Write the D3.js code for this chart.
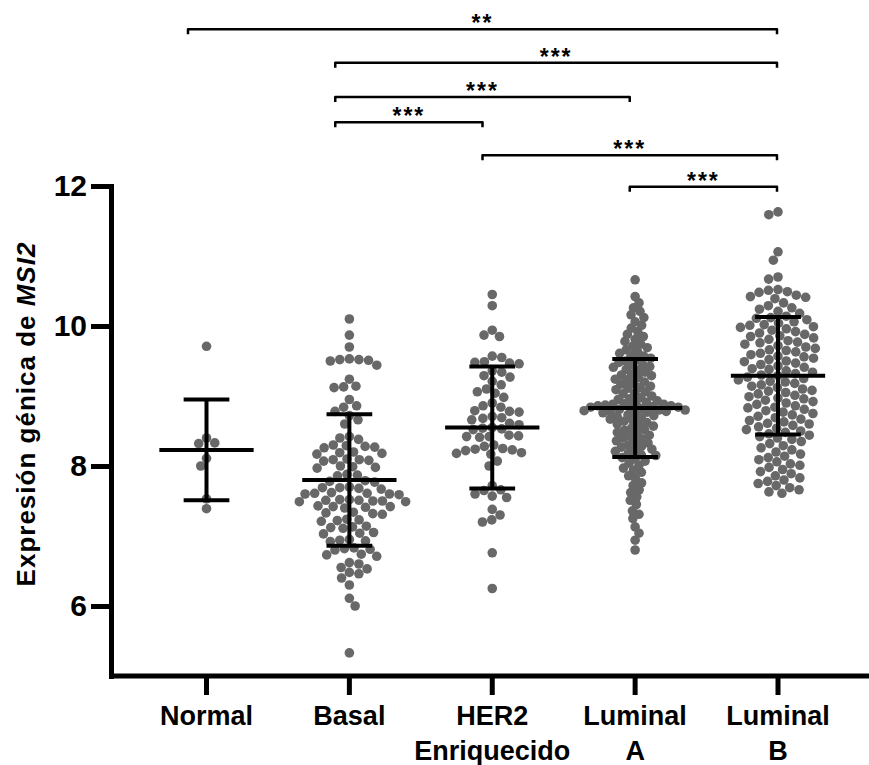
<!DOCTYPE html>
<html>
<head>
<meta charset="utf-8">
<script src="https://cdn.jsdelivr.net/npm/d3@7"></script>
<style>
  body { margin: 0; background: #fff; }
  text { font-family: "Liberation Sans", Arial, sans-serif; font-weight: bold; fill: #000; }
</style>
</head>
<body>
<div id="chart"></div>
<script>
// groups on the x axis
var categories = ["Normal", "Basal", "HER2 Enriquecido", "Luminal A", "Luminal B"];

// expression values, one array per group
var normalValues = [9.71, 8.40, 8.33, 8.32, 8.11, 8.00, 7.53, 7.39];

var basalValues = [10.10, 9.87, 9.70, 9.53, 9.52, 9.52, 9.51, 9.50, 9.44, 9.24, 9.14, 9.13, 9.12,
  8.95, 8.86, 8.84, 8.78, 8.72, 8.66, 8.60, 8.42, 8.40, 8.38, 8.30, 8.29, 8.28, 8.27, 8.26,
  8.20, 8.19, 8.18, 8.17, 8.10, 8.09, 8.09, 8.08, 8.07, 8.00, 7.99, 7.98, 7.97, 7.88, 7.87,
  7.86, 7.79, 7.78, 7.77, 7.70, 7.69, 7.69, 7.68, 7.67, 7.62, 7.61, 7.61, 7.60, 7.60, 7.59,
  7.52, 7.52, 7.51, 7.51, 7.50, 7.50, 7.49, 7.49, 7.43, 7.42, 7.42, 7.41, 7.40, 7.34, 7.33,
  7.32, 7.31, 7.24, 7.23, 7.22, 7.21, 7.14, 7.13, 7.12, 7.11, 7.05, 7.04, 7.03, 6.95, 6.94,
  6.93, 6.92, 6.83, 6.82, 6.81, 6.80, 6.74, 6.73, 6.71, 6.62, 6.60, 6.55, 6.53, 6.48, 6.46,
  6.40, 6.30, 6.11, 6.00, 5.33];

var her2Values = [10.45, 10.29, 9.94, 9.87, 9.85, 9.57, 9.55, 9.49, 9.48, 9.47, 9.46, 9.36, 9.34,
  9.29, 9.27, 9.21, 9.16, 9.10, 9.06, 9.04, 8.98, 8.90, 8.86, 8.84, 8.79, 8.78, 8.77, 8.71,
  8.69, 8.68, 8.66, 8.61, 8.59, 8.55, 8.54, 8.53, 8.52, 8.44, 8.43, 8.42, 8.42, 8.41, 8.30,
  8.28, 8.25, 8.24, 8.23, 8.22, 8.19, 8.18, 8.17, 8.07, 8.00, 7.72, 7.66, 7.65, 7.60, 7.57,
  7.55, 7.38, 7.30, 7.23, 7.20, 6.76, 6.25];

var lumAValues = [10.66, 10.42, 10.33, 10.26, 10.21, 10.16, 10.12, 10.06, 10.01, 9.97, 9.92,
  9.88, 9.85, 9.81, 9.78, 9.74, 9.71, 9.69, 9.66, 9.63, 9.61,
  9.58, 9.57, 9.54, 9.52, 9.50, 9.48, 9.45, 9.44, 9.42, 9.41,
  9.38, 9.37, 9.34, 9.31, 9.30, 9.29, 9.26, 9.24, 9.23, 9.20,
  9.18, 9.17, 9.14, 9.12, 9.11, 9.09, 9.06, 9.04, 9.03, 9.00,
  8.98, 8.96, 8.95, 8.93, 8.91, 8.90, 8.89, 8.88, 8.88, 8.87, 8.86, 8.86, 8.85, 8.84,
  8.84, 8.83, 8.82, 8.81, 8.80, 8.80, 8.79, 8.78, 8.78, 8.77, 8.76, 8.75, 8.73, 8.72, 8.71,
  8.69, 8.67, 8.65, 8.64, 8.62, 8.60,
  8.58, 8.57, 8.54, 8.52, 8.51, 8.48, 8.47, 8.44, 8.42, 8.40,
  8.39, 8.36, 8.34, 8.33, 8.30, 8.28, 8.27, 8.24, 8.22, 8.21,
  8.18, 8.16, 8.15, 8.12, 8.10, 8.07, 8.04, 8.01, 7.97, 7.94, 7.91,
  7.86, 7.82, 7.76, 7.72, 7.66, 7.62, 7.56, 7.51, 7.45, 7.36, 7.31, 7.25,
  7.13, 7.04, 6.94, 6.80];

var lumBValues = [11.63, 11.59, 11.06, 10.94, 10.70, 10.67,
  10.52, 10.51, 10.49, 10.48, 10.44, 10.42, 10.41, 10.39, 10.33, 10.29, 10.26,
  10.24, 10.21, 10.18, 10.14, 10.12, 10.11, 10.09, 10.06,
  10.04, 10.02, 10.01, 9.99, 9.98, 9.96, 9.94, 9.92, 9.90, 9.88, 9.86, 9.85, 9.83,
  9.81, 9.79, 9.77, 9.76, 9.74, 9.72, 9.70, 9.68, 9.66, 9.65, 9.63, 9.61, 9.59, 9.57,
  9.56, 9.54, 9.52, 9.50, 9.49, 9.47, 9.45, 9.43, 9.41, 9.39, 9.38, 9.36, 9.34, 9.32,
  9.30, 9.29, 9.27, 9.25, 9.23, 9.21, 9.20, 9.18, 9.16, 9.14, 9.12, 9.10, 9.08,
  9.07, 9.05, 9.03, 9.01, 8.99, 8.97, 8.96, 8.94, 8.92, 8.90, 8.88, 8.86, 8.84,
  8.83, 8.81, 8.79, 8.77, 8.75, 8.73, 8.71, 8.69, 8.67, 8.65, 8.63, 8.61, 8.60,
  8.58, 8.56, 8.54, 8.52, 8.50, 8.48, 8.46, 8.44, 8.42, 8.40, 8.38,
  8.35, 8.32, 8.29, 8.26, 8.23, 8.20, 8.17, 8.14, 8.12, 8.09, 8.06, 8.03,
  8.01, 7.98, 7.95, 7.92, 7.89, 7.86, 7.83, 7.80, 7.78, 7.75, 7.72,
  7.69, 7.66, 7.63, 7.61];

// mean and SD shown by the error bars
var groupMeans = [8.23, 7.80, 8.55, 8.83, 9.29];
var groupSD = [0.72, 0.94, 0.87, 0.70, 0.84];

// y axis ticks
var yTicks = [6, 8, 10, 12];

// significance brackets (from, to, label, height in data units)
var compFrom = ["Normal", "Basal", "Basal", "Basal", "HER2 Enriquecido", "Luminal A"];
var compTo = ["Luminal B", "Luminal B", "Luminal A", "HER2 Enriquecido", "Luminal B", "Luminal B"];
var compLabel = ["**", "***", "***", "***", "***", "***"];
var compLevel = [14.24, 13.76, 13.27, 12.91, 12.44, 11.99];

var groupValues = [normalValues, basalValues, her2Values, lumAValues, lumBValues];

var width = 869, height = 765;
var dotR = 4.8;
// Luminal A dots overlap in the original, so they are packed tighter
var packSpacing = { "Luminal A": 7.4 };

var svg = d3.select("#chart").append("svg")
    .attr("width", width)
    .attr("height", height);

var x = d3.scalePoint().domain(categories).range([206.5, 778]);
var y = d3.scaleLinear().domain([5, 12]).range([676, 186]);
// brackets sit a bit to the left of the group centres in the original
var xb = d3.scalePoint().domain(categories).range([188, 777]);

// simple beeswarm: put each dot as close to the centre as it can go without overlap
function swarm(values, cx, d) {
  var pts = values.map(function(v) { return { v: v, y: y(v) }; })
      .sort(function(a, b) { return a.y - b.y; });
  var placed = [];
  pts.forEach(function(p, i) {
    var near = placed.filter(function(q) { return Math.abs(q.y - p.y) < d; });
    var cands = [0];
    near.forEach(function(q) {
      var dx = Math.sqrt(d * d - (q.y - p.y) * (q.y - p.y));
      cands.push(q.dx + dx, q.dx - dx);
    });
    var sign = i % 2 ? -1 : 1;
    cands.sort(function(a, b) {
      var diff = Math.abs(a) - Math.abs(b);
      if (Math.abs(diff) > 0.01) return diff;
      return sign * (b - a);
    });
    for (var k = 0; k < cands.length; k++) {
      var c = cands[k];
      var ok = near.every(function(q) {
        return (q.dx - c) * (q.dx - c) + (q.y - p.y) * (q.y - p.y) >= d * d - 0.01;
      });
      if (ok) { p.dx = c; break; }
    }
    p.cx = cx + p.dx;
    placed.push(p);
  });
  return pts;
}

// dots
var groups = svg.selectAll(".group")
    .data(categories)
    .enter().append("g")
    .attr("class", "group");

groups.selectAll("circle")
    .data(function(c, i) { return swarm(groupValues[i], x(c), packSpacing[c] || dotR * 2); })
    .enter().append("circle")
    .attr("cx", function(d) { return d.cx; })
    .attr("cy", function(d) { return d.y; })
    .attr("r", dotR)
    .style("fill", "#686868");

// mean +/- SD bars
var meanHalf = x.step() * 0.33;
var capHalf = x.step() * 0.16;
var bars = svg.selectAll(".errbar")
    .data(categories)
    .enter().append("g")
    .attr("class", "errbar")
    .style("stroke", "#000")
    .style("stroke-width", 4);

bars.append("line")
    .attr("x1", function(c) { return x(c); })
    .attr("x2", function(c) { return x(c); })
    .attr("y1", function(c, i) { return y(groupMeans[i] + groupSD[i]); })
    .attr("y2", function(c, i) { return y(groupMeans[i] - groupSD[i]); });
bars.append("line")
    .attr("x1", function(c) { return x(c) - meanHalf; })
    .attr("x2", function(c) { return x(c) + meanHalf; })
    .attr("y1", function(c, i) { return y(groupMeans[i]); })
    .attr("y2", function(c, i) { return y(groupMeans[i]); });
bars.append("line")
    .attr("x1", function(c) { return x(c) - capHalf; })
    .attr("x2", function(c) { return x(c) + capHalf; })
    .attr("y1", function(c, i) { return y(groupMeans[i] + groupSD[i]); })
    .attr("y2", function(c, i) { return y(groupMeans[i] + groupSD[i]); });
bars.append("line")
    .attr("x1", function(c) { return x(c) - capHalf; })
    .attr("x2", function(c) { return x(c) + capHalf; })
    .attr("y1", function(c, i) { return y(groupMeans[i] - groupSD[i]); })
    .attr("y2", function(c, i) { return y(groupMeans[i] - groupSD[i]); });

// y axis
var yAxis = svg.append("g")
    .attr("transform", "translate(111,0)")
    .call(d3.axisLeft(y).tickValues(yTicks).tickFormat(d3.format("d"))
      .tickSizeInner(20).tickSizeOuter(0).tickPadding(4));
yAxis.select(".domain").style("stroke-width", 5).style("stroke-linecap", "square");
yAxis.selectAll(".tick line").style("stroke-width", 5);
yAxis.selectAll(".tick text").style("font-size", "30px").style("font-family", null);

// x axis
var xAxisY = 676;
svg.append("line")
    .attr("x1", 109).attr("x2", width)
    .attr("y1", xAxisY).attr("y2", xAxisY)
    .style("stroke", "#000").style("stroke-width", 5);
svg.selectAll(".xtick")
    .data(categories)
    .enter().append("line")
    .attr("class", "xtick")
    .attr("x1", function(c) { return x(c); })
    .attr("x2", function(c) { return x(c); })
    .attr("y1", xAxisY).attr("y2", xAxisY + 19)
    .style("stroke", "#000").style("stroke-width", 5);

var xLabels = svg.selectAll(".xlabel")
    .data(categories)
    .enter().append("text")
    .attr("class", "xlabel")
    .attr("text-anchor", "middle")
    .style("font-size", "27px");
xLabels.selectAll("tspan")
    .data(function(c) { return c.split(" ").map(function(t) { return { t: t, c: c }; }); })
    .enter().append("tspan")
    .attr("x", function(d) { return x(d.c); })
    .attr("y", function(d, i) { return 725 + i * 35; })
    .text(function(d) { return d.t; });

// y axis title
var yTitle = svg.append("text")
    .attr("transform", "translate(35,414) rotate(-90)")
    .attr("text-anchor", "middle")
    .style("font-size", "26px")
    .style("letter-spacing", "1px");
yTitle.append("tspan").text("Expresión génica de ");
yTitle.append("tspan").style("font-style", "italic").text("MSI2");

// significance brackets
var comps = compFrom.map(function(f, i) {
  return { from: f, to: compTo[i], label: compLabel[i], level: compLevel[i] };
});
var brackets = svg.selectAll(".bracket")
    .data(comps)
    .enter().append("g")
    .attr("class", "bracket");
brackets.append("path")
    .attr("d", function(d) {
      var yy = y(d.level);
      return "M" + xb(d.from) + "," + (yy + 5) + "V" + yy + "H" + xb(d.to) + "V" + (yy + 5);
    })
    .style("fill", "none")
    .style("stroke", "#000")
    .style("stroke-width", 2.5)
    .style("stroke-linejoin", "round");
brackets.append("text")
    .attr("x", function(d) { return (xb(d.from) + xb(d.to)) / 2; })
    .attr("y", function(d) { return y(d.level) + 2; })
    .attr("text-anchor", "middle")
    .style("font-size", "23px")
    .style("letter-spacing", "2px")
    .text(function(d) { return d.label; });
</script>
</body>
</html>
